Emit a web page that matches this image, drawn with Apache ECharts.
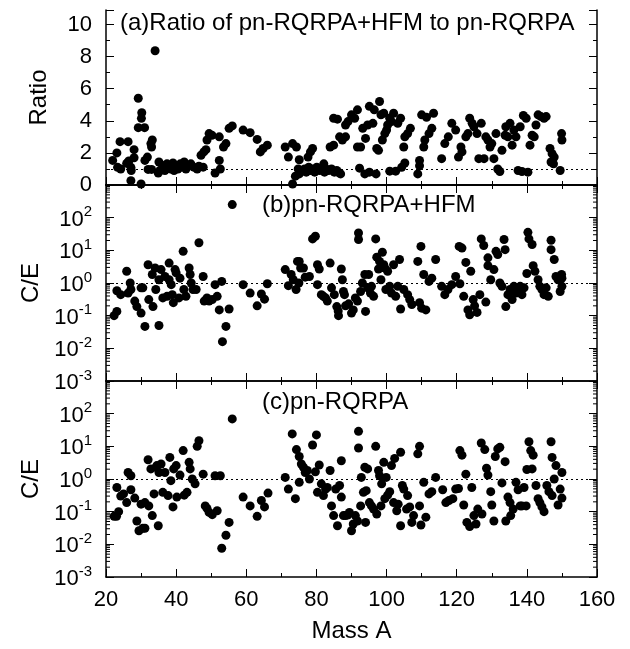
<!DOCTYPE html>
<html><head><meta charset="utf-8">
<script src="https://cdn.jsdelivr.net/npm/echarts@6/dist/echarts.min.js"></script>
<style>html,body{margin:0;padding:0;background:#fff}#c{width:630px;height:649px}</style>
</head><body><div id="c"></div>
<script>
// ---- data: [mass A, value] ----
const ratioPts = [[21.9,1.53],[23.1,2.0],[24.0,2.7],[23.3,1.1],[24.2,1.0],[25.9,1.35],[26.3,2.7],[26.5,1.5],[27.1,1.1],[27.2,0.9],[27.1,0.27],[28.0,2.2],[28.0,1.7],[29.2,5.4],[29.2,3.57],[30.2,4.5],[30.1,4.15],[30.0,0.06],[31.0,3.57],[31.1,1.53],[31.8,1.74],[32.0,0.97],[32.8,2.58],[33.2,2.8],[33.0,2.37],[33.0,0.97],[34.0,8.36],[34.9,0.74],
[35.1,1.43],[35.4,0.9],[36.2,1.22],[36.8,0.9],[37.4,1.32],[38.0,1.11],[38.5,1.0],[39.1,1.37],[39.4,0.9],[40.0,1.22],[40.5,1.0],[41.2,1.32],[41.6,1.11],[42.3,1.43],[42.8,1.0],[43.7,1.22],[44.2,1.32],[45.0,1.11],[46.0,1.0],[46.5,1.17],[47.7,1.11],
[47.1,1.85],[47.9,2.06],[48.5,2.2],[48.8,2.8],[49.4,3.2],[50.2,3.1],[51.1,0.74],[52.3,1.53],[52.3,3.0],[52.6,1.0],[53.5,2.37],[54.2,2.58],[55.1,3.53],[56.0,3.68],[59.1,3.42],[61.1,3.26],[63.1,2.84],[64.0,2.06],[64.8,2.27],[66.0,2.48],
[71.1,2.37],[72.0,1.74],[73.2,0.06],[73.2,2.58],[74.3,2.37],[74.0,0.55],[74.8,1.0],[75.1,1.57],
[75.1,0.69],[75.9,0.9],[76.6,1.0],[77.1,0.8],[77.8,1.11],[78.2,0.9],[78.9,1.0],[79.5,0.8],[80.1,1.11],[80.9,0.9],[81.4,1.0],[82.3,0.8],[82.8,1.0],[83.5,0.9],[84.3,1.0],[85.1,0.8],[85.8,0.9],[86.6,0.74],
[77.6,1.74],[78.3,2.06],[78.9,2.27],[82.1,1.32],[83.9,2.37],[84.9,2.48],[84.9,4.16],[86.0,4.1],[86.9,0.69],[86.6,3.0],[87.4,2.8],[88.3,3.0],[88.3,3.74],[89.0,3.95],[90.0,4.37],[90.9,4.16],[91.7,4.68],[91.7,2.37],[92.3,1.05],[92.6,2.37],[93.2,3.53],[94.0,2.9],[93.8,0.69],[94.6,3.74],[95.1,4.9],[95.1,0.8],[96.1,3.84],[96.5,4.68],[97.0,0.69],[97.2,2.27],[97.7,2.16],[98.0,5.2],[98.4,4.37],[98.8,2.8],[99.2,4.47],[99.5,3.2],[100.0,3.42],[100.3,3.74],[100.9,4.16],[101.4,3.95],[102.0,4.47],[100.9,0.86],[102.6,0.86],[103.2,3.84],[104.0,4.16],[104.3,1.1],[104.9,2.37],[105.2,1.37],[105.2,3.0],[106.0,3.2],[106.8,3.53],
[108.9,0.69],[109.4,1.53],[109.4,1.2],[110.0,4.37],[110.6,2.37],[110.9,2.8],[111.4,4.22],[112.1,3.2],[112.9,3.53],[113.4,4.47],[115.7,1.64],[116.6,2.58],[117.6,3.0],[118.6,3.84],[119.7,3.42],[120.5,1.74],[121.2,2.37],[121.5,2.06],[122.6,3.0],[123.2,3.2],[123.7,4.16],[124.4,3.84],[124.9,3.63],[125.8,3.2],[126.3,1.64],[127.0,3.84],[127.8,1.64],[128.3,3.0],[128.9,2.8],[129.5,2.37],[130.0,2.58],[130.6,1.64],[131.2,3.2],[131.7,1.0],[132.3,0.84],[132.9,2.16],[133.8,3.1],[134.0,3.63],[134.6,3.0],[135.2,3.84],[135.8,2.48],[136.3,3.42],[136.9,3.0],[137.5,0.9],[138.1,3.63],[138.6,0.84],[139.0,4.33],[139.8,4.16],[140.3,0.8],[140.9,2.48],[141.5,3.1],[142.1,3.0],[142.6,3.74],[143.2,4.37],[144.0,4.26],[144.9,4.16],[145.5,4.26],[146.6,2.27],[147.2,1.95],[146.9,1.43],[147.6,1.32],[147.8,1.74],[149.5,0.9],[149.9,3.2],[150.0,2.8]];

const hfmPts = [[22.3,0.1],[23.1,0.135],[23.1,0.58],[24.2,0.44],[25.9,2.29],[26.3,0.49],[26.9,1.0],[27.1,0.63],[28.2,0.28],[28.8,0.19],[30.0,0.12],[30.0,0.71],[30.5,0.71],[31.1,0.047],[32.0,3.63],[32.2,0.31],[33.2,1.82],[33.4,0.19],[34.0,2.88],[34.2,0.63],[35.1,0.05],[35.1,1.26],[35.7,2.57],[36.2,0.35],[36.8,1.58],[37.4,0.39],[38.0,4.07],[38.0,1.26],[38.6,0.89],[38.9,0.44],[39.2,0.25],[39.7,2.57],[40.0,2.04],[40.8,0.35],[41.1,1.41],[42.0,9.33],[42.2,0.63],[42.8,0.39],[43.7,2.88],[44.0,1.82],[44.3,1.0],[44.8,0.63],[45.7,0.63],[46.5,17],[47.7,1.58],[48.0,0.28],[48.8,0.35],[49.4,0.28],[50.3,0.31],[51.1,0.89],[51.7,0.39],[52.3,0.15],[53.0,1.12],[54.2,0.047],[53.2,0.016],[55.1,0.16],[56.0,251],[59.1,0.89],[61.1,0.49],[63.1,0.2],[64.3,0.46],[65.2,0.32],[66.0,0.95],
[71.1,2.57],[72.0,0.83],[72.8,1.82],[73.4,1.26],[74.2,0.63],[74.6,4.57],[75.1,4.57],[75.5,2.88],[75.0,1.0],[76.3,2.88],[76.8,1.51],[78.0,1.58],[78.9,22.4],[79.7,26.9],[80.3,3.63],[80.3,0.89],[80.8,2.69],[81.4,0.44],[82.0,0.39],[82.6,0.35],[83.1,0.28],[83.9,4.07],[84.3,0.71],[85.1,0.44],[85.8,0.19],[86.2,0.14],[86.3,0.1],[87.1,2.69],[87.4,1.26],[87.7,0.55],[88.0,0.44],[88.3,0.2],[89.2,0.23],[90.0,0.12],[90.5,0.15],[91.1,0.35],[91.7,0.28],[92.0,33.9],[92.0,21.4],[92.6,0.55],[93.1,1.0],[93.8,1.82],[94.0,0.135],[94.6,0.71],[94.9,1.82],[95.4,0.49],[95.7,0.79],[96.3,0.39],[96.9,22.4],[97.2,6.17],[97.7,2.69],[98.0,4.57],[98.4,1.26],[98.8,8.71],[99.2,3.63],[99.5,2.88],[99.8,0.63],[100.3,2.29],[100.9,0.79],[101.4,0.49],[102.0,3.63],[102.6,0.39],[103.2,0.79],[103.7,5.25],[104.0,0.16],[104.9,0.63],[106.0,0.44],[106.6,0.31],[107.2,0.22],
[108.9,4.57],[109.4,0.25],[109.8,13.2],[110.0,0.17],[110.6,1.82],[111.2,0.15],[112.1,1.12],[112.9,1.41],[114.0,5.25],[115.7,0.79],[116.6,0.44],[117.5,0.63],[118.6,0.89],[119.7,1.58],[120.9,0.95],[120.7,13.2],[121.5,11.7],[122.0,0.39],[122.6,4.27],[123.2,0.15],[124.0,2.29],[123.7,0.107],[124.7,0.31],[125.1,0.2],[125.8,0.126],[126.6,0.44],[127.0,22.4],[127.7,14.1],[128.3,0.26],[128.9,5.89],[128.9,3.39],[129.7,1.26],[130.6,2.57],[131.2,9.33],[131.7,7.41],[132.3,1.0],[132.9,0.79],[133.5,21.4],[133.8,10.5],[134.0,0.19],[134.6,0.44],[135.2,0.63],[135.8,0.31],[136.3,0.79],[136.9,0.49],[137.5,0.63],[138.1,0.79],[138.6,0.44],[139.2,0.71],[140.0,1.95],[140.3,35.5],[140.6,22.4],[141.5,15.1],[141.8,3.39],[142.3,2.29],[143.2,1.26],[143.7,0.79],[144.3,0.63],[144.9,0.44],[145.5,0.71],[146.1,0.39],[146.9,20.4],[146.9,10.5],[147.8,5.25],[148.3,1.58],[148.9,1.26],[149.5,0.55],[149.9,1.82],[150.0,1.41],[150.0,0.79]];

const rqrpaPts = [[22.3,0.072],[23.0,0.072],[23.6,0.1],[23.1,0.55],[24.2,0.3],[25.0,0.35],[25.9,0.19],[26.3,1.58],[27.1,1.26],[27.1,0.47],[28.2,0.26],[28.8,0.052],[29.4,0.026],[30.0,0.17],[30.5,0.031],[31.1,0.031],[31.1,0.19],[32.0,3.89],[32.2,0.15],[32.8,2.04],[33.2,0.076],[33.7,0.35],[34.3,2.29],[34.5,2.57],[34.9,0.037],[35.1,1.58],[35.7,2.88],[36.2,0.39],[36.8,1.58],[37.7,0.31],[38.2,4.57],[38.5,0.89],[39.1,0.14],[39.3,2.04],[40.0,2.57],[40.2,0.28],[41.1,1.32],[42.0,7.41],[42.3,0.32],[43.1,0.39],[43.7,3.24],[44.0,2.04],[44.6,1.0],[45.4,0.71],[46.0,10],[46.5,14.8],[47.7,1.41],[48.3,0.15],[48.8,0.126],[49.4,0.095],[50.3,0.081],[51.1,1.26],[51.7,0.107],[52.6,1.26],[53.0,0.0076],[54.2,0.019],[55.1,0.047],[56.0,69],[59.1,0.28],[61.1,0.15],[63.1,0.072],[64.3,0.22],[65.2,0.14],[66.2,0.37],
[71.1,1.12],[72.0,0.49],[73.1,24],[74.0,0.25],[74.3,7.94],[75.1,4.9],[75.1,0.79],[75.7,2.88],[76.3,2.29],[76.8,1.58],[77.4,1.82],[78.0,1.0],[78.9,11],[79.7,1.66],[80.0,22.4],[80.3,0.39],[80.8,2.69],[81.4,0.71],[82.0,0.31],[82.6,0.49],[83.1,0.55],[83.9,1.82],[84.3,0.15],[84.9,0.076],[85.5,0.49],[86.0,0.037],[86.6,0.63],[87.1,3.63],[87.1,0.28],[87.7,0.076],[88.3,0.076],[88.9,0.079],[89.4,0.095],[90.0,0.026],[90.5,0.042],[91.1,0.076],[91.7,0.052],[92.0,28.8],[92.0,8.91],[92.6,0.15],[92.8,1.12],[93.4,0.39],[93.8,2.29],[94.0,0.047],[94.2,0.44],[94.6,2.04],[95.1,0.19],[95.7,0.15],[96.3,0.12],[96.9,10],[97.2,0.085],[97.7,1.82],[98.0,1.26],[98.4,0.15],[98.6,0.71],[99.2,3.24],[99.5,0.25],[99.9,1.12],[100.3,0.32],[100.9,0.41],[101.4,2.57],[102.0,0.19],[102.3,4.27],[102.9,0.107],[103.3,0.17],[104.0,6.61],[104.0,0.037],[104.5,0.63],[104.9,0.49],[105.7,0.12],[106.0,0.31],[106.6,0.14],[107.2,0.047],[107.7,0.076],
[108.9,5.89],[109.4,10],[109.4,0.15],[109.8,0.039],[110.6,0.79],[111.2,0.068],[112.1,0.35],[112.9,0.41],[114.0,1.12],[116.0,0.47],[116.9,0.19],[117.8,0.22],[118.9,0.25],[119.7,0.49],[120.5,0.51],[120.9,7.41],[121.5,5.37],[122.0,0.16],[122.6,1.41],[122.9,0.047],[123.7,0.035],[124.3,0.55],[124.9,0.076],[125.5,0.042],[126.0,0.12],[127.0,12.6],[127.2,0.085],[128.0,7.94],[128.5,2.14],[128.9,1.32],[129.7,0.41],[130.0,0.16],[130.6,0.052],[131.0,4.9],[131.7,8.32],[132.3,9.33],[132.9,0.76],[133.8,3.39],[134.0,0.052],[134.6,0.28],[135.2,0.19],[135.4,0.076],[136.1,0.12],[136.9,0.79],[137.5,0.47],[138.1,0.15],[138.6,0.15],[139.2,0.55],[139.8,0.15],[140.0,1.95],[140.6,13.8],[141.1,7.41],[141.5,2.04],[141.8,5.37],[142.6,0.63],[143.2,0.25],[143.7,0.19],[144.3,0.14],[144.9,0.1],[145.7,0.63],[146.3,0.41],[146.9,13.8],[147.2,4.57],[147.2,0.31],[147.8,1.0],[148.3,2.57],[148.9,0.16],[149.5,0.49],[150.0,1.58],[150.0,0.26]];

const panelTitles = ['(a)Ratio of pn-RQRPA+HFM to pn-RQRPA', '(b)pn-RQRPA+HFM', '(c)pn-RQRPA'];
const xRange = [20, 160];
const ratioRange = [0, 10.9];
const logRange = [0.001, 1000];
const refLevel = 1;
const logMinorTicks = [];
for (let e = -3; e < 3; e++) for (let m = 2; m <= 9; m++) logMinorTicks.push(m * Math.pow(10, e));

const FONT = 'Liberation Sans';
const FS = 22;      // tick labels
const FT = 24;      // titles and axis names
const black = '#000';

const grids = [
  {left: 106, right: 33, top: 10, height: 175},
  {left: 106, right: 33, top: 185, height: 196},
  {left: 106, right: 33, top: 381, height: 196}
];

const xAxes = [];
grids.forEach((g, i) => {
  ['bottom', 'top'].forEach(pos => {
    xAxes.push({
      type: 'value', gridIndex: i, position: pos, min: xRange[0], max: xRange[1], interval: 20,
      name: (i === 2 && pos === 'bottom') ? 'Mass A' : '',
      nameLocation: 'middle', nameGap: 42,
      nameTextStyle: {fontSize: FT, fontFamily: FONT, color: black},
      axisLine: {show: true, lineStyle: {color: black, width: 1.5}},
      axisTick: {show: true, inside: true, length: 8, lineStyle: {color: black, width: 1}},
      minorTick: {show: true, splitNumber: 2, length: 4, lineStyle: {color: black, width: 1}},
      axisLabel: {show: i === 2 && pos === 'bottom', fontSize: FS, fontFamily: FONT, color: black, margin: 12},
      splitLine: {show: false}
    });
  });
});

function supLabel(v) {
  const e = Math.round(Math.log10(v));
  if (e >= 3) return '';
  return '{b|10}{s|' + e + '}';
}
const richSup = {
  b: {fontSize: FS, fontFamily: FONT, color: black, verticalAlign: 'bottom'},
  s: {fontSize: 15, fontFamily: FONT, color: black, verticalAlign: 'bottom', padding: [0, 0, 11, 0]}
};

const yAxes = [];
// panel a
['left', 'right'].forEach(pos => {
  yAxes.push({
    type: 'value', gridIndex: 0, position: pos, min: ratioRange[0], max: ratioRange[1], interval: 2,
    name: pos === 'left' ? 'Ratio' : '', nameLocation: 'middle', nameGap: 55,
    nameTextStyle: {fontSize: FT, fontFamily: FONT, color: black},
    axisLine: {show: true, lineStyle: {color: black, width: 1.5}},
    axisTick: {show: true, inside: true, length: 8, lineStyle: {color: black, width: 1}},
    minorTick: {show: true, splitNumber: 2, length: 4, lineStyle: {color: black, width: 1}},
    axisLabel: {show: pos === 'left', showMaxLabel: false, fontSize: FS, fontFamily: FONT, color: black, margin: 14},
    splitLine: {show: false}
  });
});
[1, 2].forEach(gi => {
  ['left', 'right'].forEach(pos => {
    yAxes.push({
      type: 'log', logBase: 10, gridIndex: gi, position: pos, min: logRange[0], max: logRange[1],
      name: pos === 'left' ? 'C/E' : '', nameLocation: 'middle', nameGap: 55,
      nameTextStyle: {fontSize: FT, fontFamily: FONT, color: black},
      axisLine: {show: true, lineStyle: {color: black, width: 1.5}},
      axisTick: {show: true, inside: true, length: 8, lineStyle: {color: black, width: 1}},
      axisLabel: {show: pos === 'left', formatter: supLabel, rich: richSup, margin: 14},
      splitLine: {show: false}
    });
  });
});

function scatter(pts, xi, yi) {
  return {
    type: 'scatter', xAxisIndex: xi, yAxisIndex: yi, data: pts, symbolSize: 9,
    itemStyle: {color: black, opacity: 1}, silent: true, z: 3,
    markLine: {silent: true, symbol: 'none', label: {show: false},
      lineStyle: {color: black, type: [2, 3], width: 1}, data: [{yAxis: refLevel}]}
  };
}
function minorTicksSeries(xi, yi) {
  return {
    type: 'custom', xAxisIndex: xi, yAxisIndex: yi, silent: true, clip: false,
    data: logMinorTicks.map(v => [xRange[0], v]),
    renderItem: function (params, api) {
      const v = api.value(1);
      const l = api.coord([xRange[0], v]);
      const r = api.coord([xRange[1], v]);
      const st = {stroke: black, lineWidth: 1};
      return {type: 'group', children: [
        {type: 'line', shape: {x1: l[0], y1: l[1], x2: l[0] + 4, y2: l[1]}, style: st},
        {type: 'line', shape: {x1: r[0] - 4, y1: r[1], x2: r[0], y2: r[1]}, style: st}
      ]};
    }
  };
}

const titleStyle = {fontSize: FT, fontWeight: 'normal', fontFamily: FONT, color: black};
const chart = echarts.init(document.getElementById('c'), null, {renderer: 'canvas'});
chart.setOption({
  animation: false,
  backgroundColor: '#fff',
  title: [
    {text: panelTitles[0], left: 120, top: 11, padding: 0, textStyle: titleStyle},
    {text: panelTitles[1], left: 262, top: 193, padding: 0, textStyle: titleStyle},
    {text: panelTitles[2], left: 262, top: 390, padding: 0, textStyle: titleStyle}
  ],
  grid: grids,
  xAxis: xAxes,
  yAxis: yAxes,
  series: [
    scatter(ratioPts, 0, 0),
    scatter(hfmPts, 2, 2),
    scatter(rqrpaPts, 4, 4),
    minorTicksSeries(2, 2),
    minorTicksSeries(4, 4)
  ]
});
</script></body></html>
